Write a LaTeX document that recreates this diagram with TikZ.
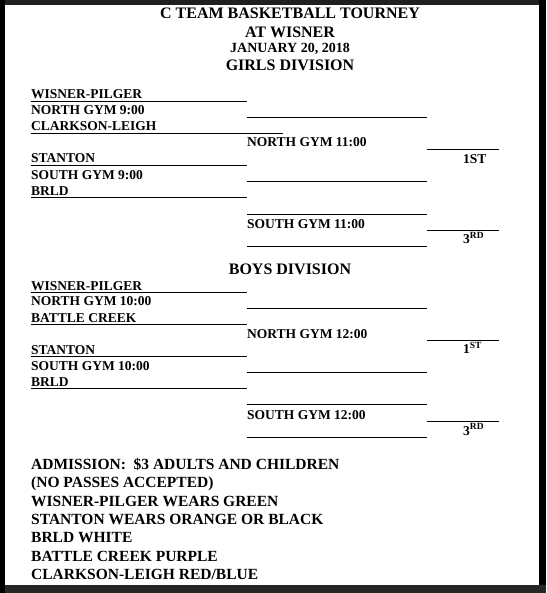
\documentclass[tikz,border=0pt]{standalone}
\usepackage{fontspec}
\setmainfont{Liberation Serif}

\tikzset{
  head/.style={anchor=base, inner sep=0pt, font=\bfseries\fontsize{16}{18}\selectfont},
  team/.style={anchor=base west, inner sep=0pt, font=\bfseries\fontsize{13.5}{16}\selectfont},
  note/.style={anchor=base west, inner sep=0pt, font=\bfseries\fontsize{15.5}{18}\selectfont},
  rule/.style={line width=0.9pt}
}

\begin{document}
\begin{tikzpicture}[x=1pt,y=-1pt]
  % screen frame and page
  \fill[black] (0,0) rectangle (546,593);
  \fill[black!88] (5,0) rectangle (539,5);
  \fill[white] (5,5) rectangle (539,585);
  \fill[black!85] (5,585) rectangle (546,593);

  % heading
  \node[head] (title) at (290,18.3){C TEAM BASKETBALL TOURNEY};
  \node[head] (place) at (290,37.7){AT WISNER};
  \node[head,font=\bfseries\fontsize{14}{16}\selectfont] (date) at (290,53){JANUARY 20, 2018};
  \node[head] (girls) at (290,70.7){GIRLS DIVISION};

  % girls bracket
  \node[team] (gwp) at (31,99){WISNER-PILGER};
  \node[team] (gng) at (31,115){NORTH GYM 9:00};
  \node[team] (gcl) at (31,131){CLARKSON-LEIGH};
  \node[team] (gnf) at (247,147){NORTH GYM 11:00};
  \node[team] (gst) at (31,163){STANTON};
  \node[team] (gsg) at (31,179.5){SOUTH GYM 9:00};
  \node[team] (gbr) at (31,195.5){BRLD};
  \node[team] (gsf) at (247,228.5){SOUTH GYM 11:00};
  \node[team] (gfirst) at (463,163.3){1ST};
  \node[team] (gthird) at (463,243.5){3\textsuperscript{RD}};
  \draw[rule] (31,101) -- (246.5,101);
  \draw[rule] (247,117.3) -- (427,117.3);
  \draw[rule] (31,133.3) -- (283,133.3);
  \draw[rule] (427,149.3) -- (499,149.3);
  \draw[rule] (31,165) -- (246.5,165);
  \draw[rule] (247,181.7) -- (427,181.7);
  \draw[rule] (31,197.3) -- (246.5,197.3);
  \draw[rule] (247,214.3) -- (427,214.3);
  \draw[rule] (427,230.5) -- (499,230.5);
  \draw[rule] (247,246.7) -- (427,246.7);

  % boys bracket
  \node[head] (boys) at (290,274.3){BOYS DIVISION};
  \node[team] (bwp) at (31,290){WISNER-PILGER};
  \node[team] (bng) at (31,305.7){NORTH GYM 10:00};
  \node[team] (bbc) at (31,322){BATTLE CREEK};
  \node[team] (bnt) at (247,338.3){NORTH GYM 12:00};
  \node[team] (bst) at (31,354){STANTON};
  \node[team] (bsg) at (31,370){SOUTH GYM 10:00};
  \node[team] (bbr) at (31,386){BRLD};
  \node[team] (bsw) at (247,419.3){SOUTH GYM 12:00};
  \node[team] (bfirst) at (463,353.3){1\textsuperscript{ST}};
  \node[team] (bthird) at (463,435){3\textsuperscript{RD}};
  \draw[rule] (31,292.3) -- (246.5,292.3);
  \draw[rule] (247,308) -- (427,308);
  \draw[rule] (31,324.3) -- (246.5,324.3);
  \draw[rule] (427,340.3) -- (499,340.3);
  \draw[rule] (31,356) -- (246.5,356);
  \draw[rule] (247,372.3) -- (427,372.3);
  \draw[rule] (31,388.3) -- (246.5,388.3);
  \draw[rule] (247,404.3) -- (427,404.3);
  \draw[rule] (427,421.7) -- (499,421.7);
  \draw[rule] (247,437.3) -- (427,437.3);

  % admission and colours
  \node[note] (adm) at (31,469.3){ADMISSION:\ \ \$3 ADULTS AND CHILDREN};
  \node[note] (pass) at (31,487.5){(NO PASSES ACCEPTED)};
  \node[note] (cwp) at (31,506){WISNER-PILGER WEARS GREEN};
  \node[note] (cst) at (31,524.3){STANTON WEARS ORANGE OR BLACK};
  \node[note] (cbr) at (31,542.7){BRLD WHITE};
  \node[note] (cbc) at (31,561){BATTLE CREEK PURPLE};
  \node[note] (ccl) at (31,579.3){CLARKSON-LEIGH RED/BLUE};
\end{tikzpicture}
\end{document}
